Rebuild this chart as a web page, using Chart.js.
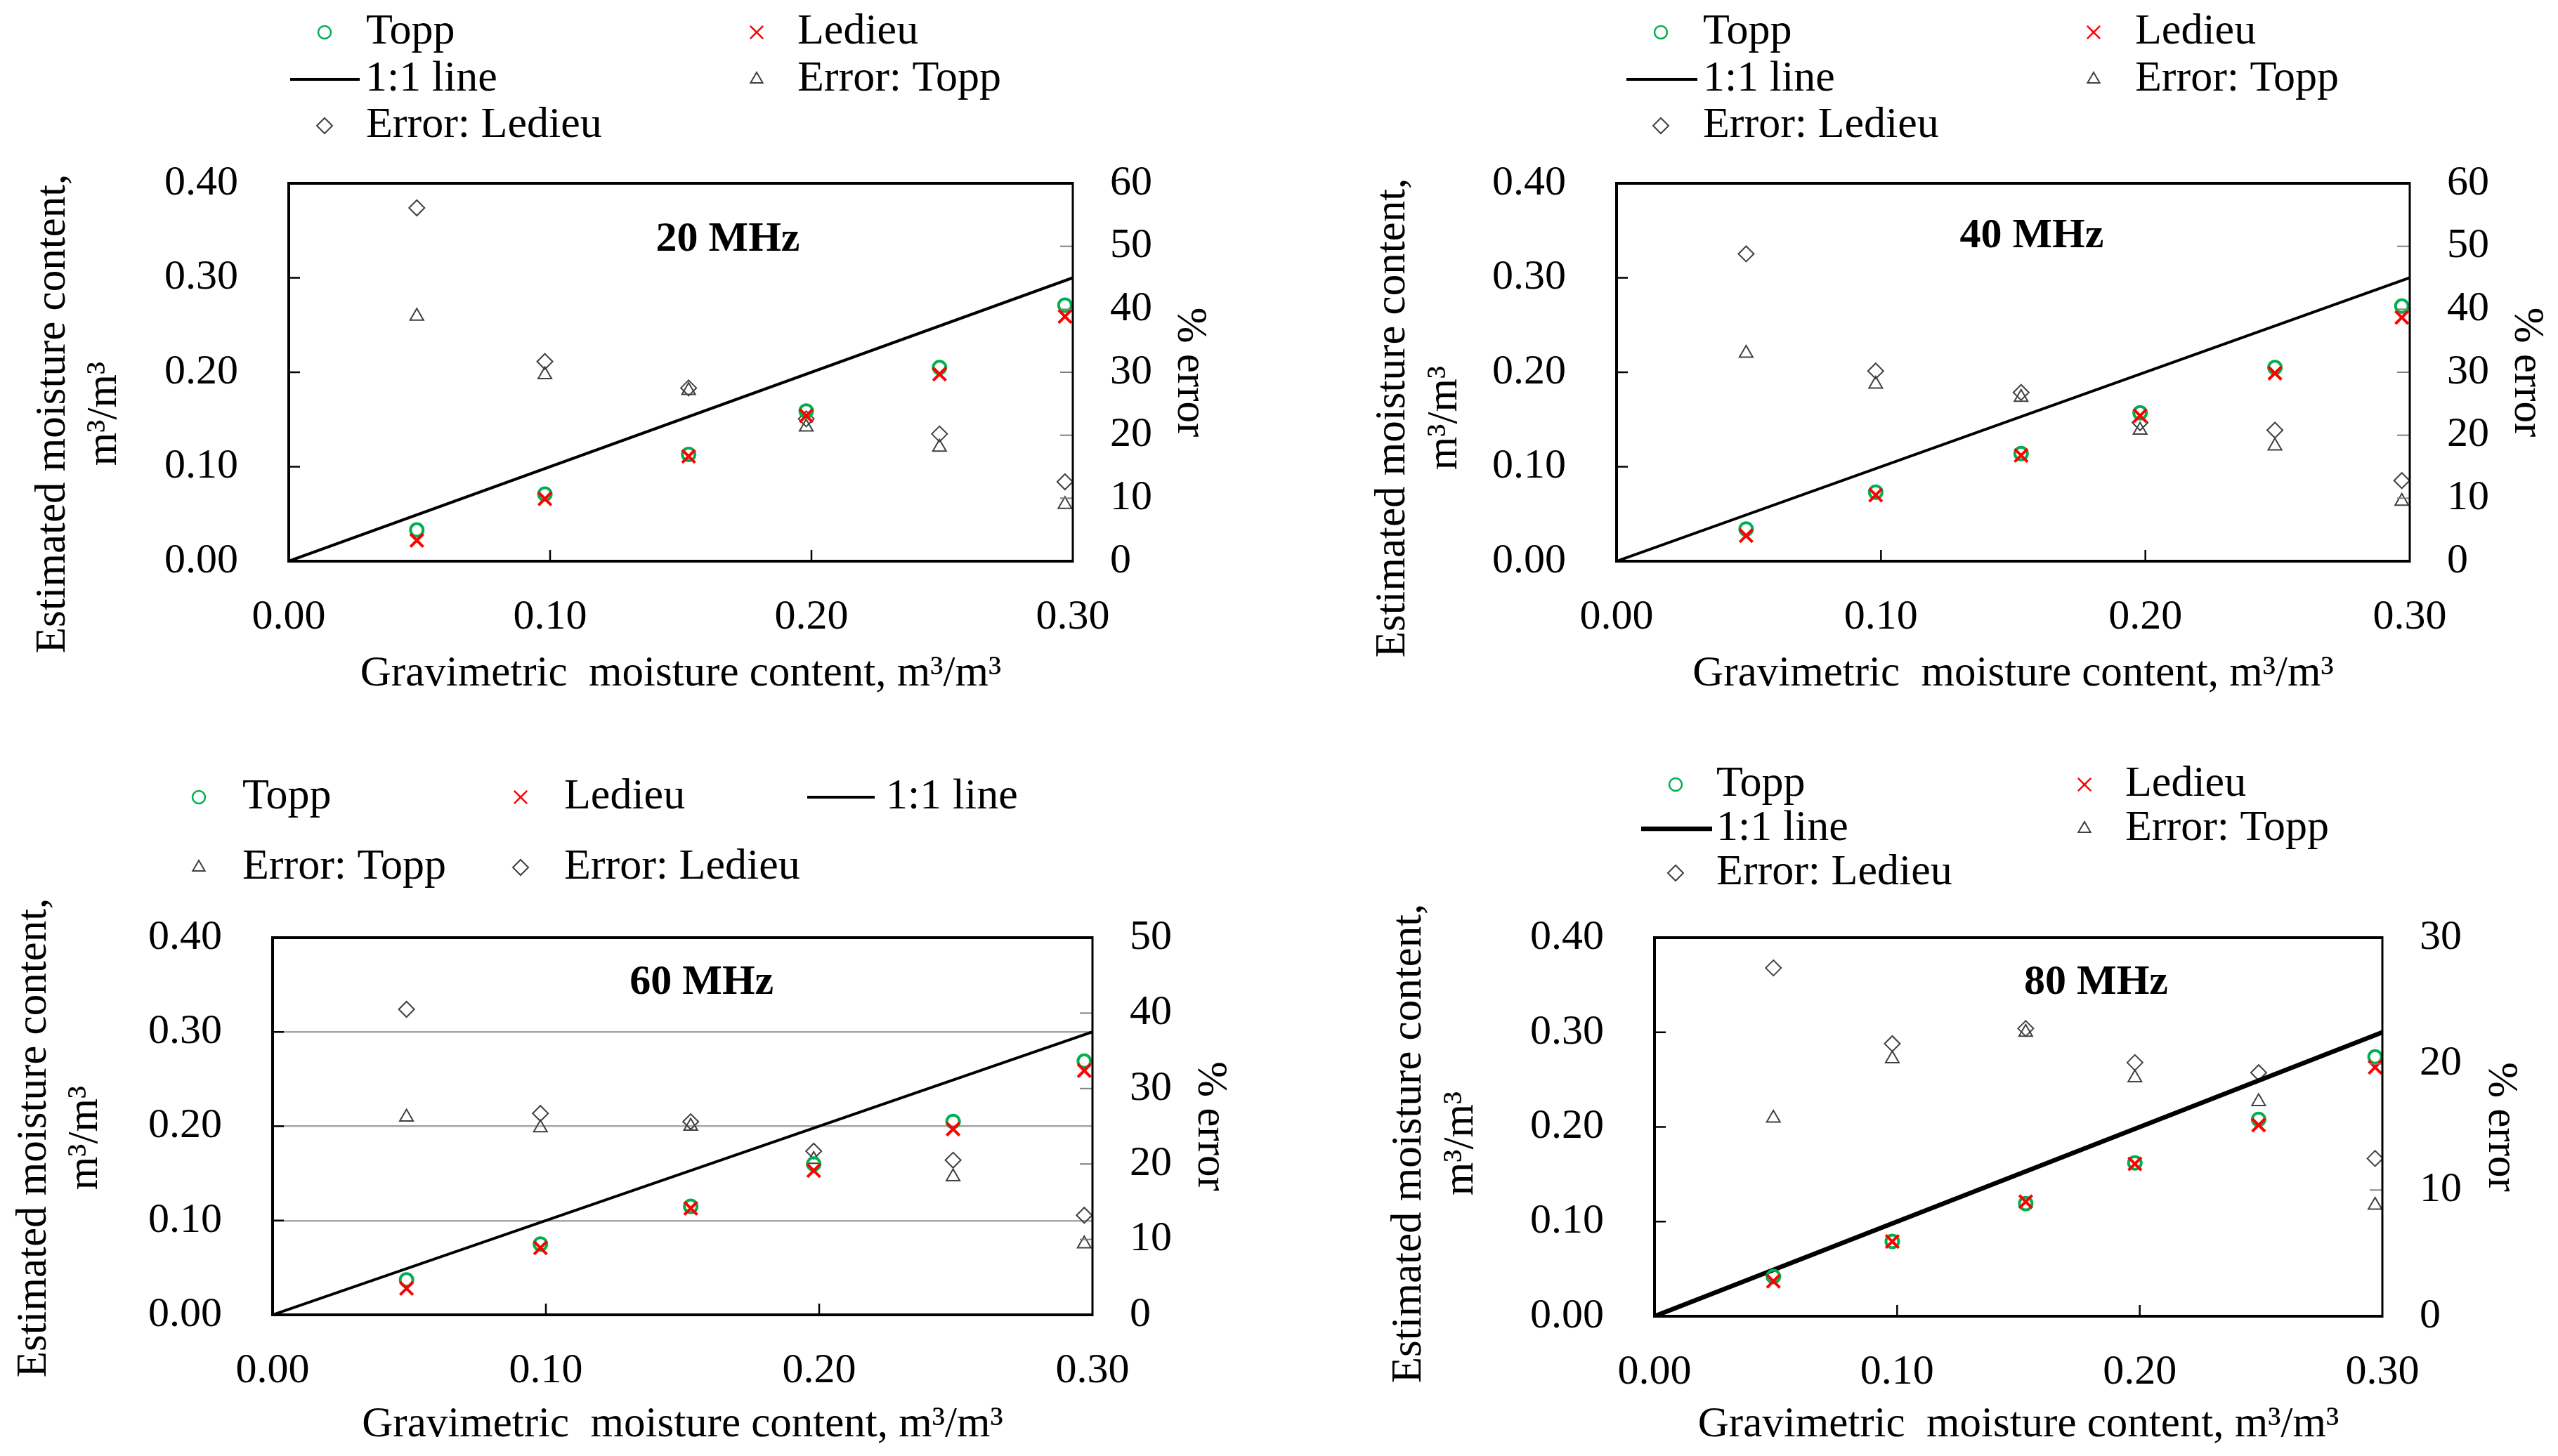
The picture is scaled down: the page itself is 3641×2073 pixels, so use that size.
<!DOCTYPE html>
<html>
<head>
<meta charset="utf-8">
<script src="https://cdn.jsdelivr.net/npm/chart.js@4.4.1/dist/chart.umd.min.js"></script>
<style>
  html, body { margin: 0; padding: 0; background: #fff; }
  .panel { position: absolute; }
</style>
</head>
<body>
<div class="panel" style="left:0;top:0;width:1820px;height:1030px"><canvas id="c20"></canvas></div>
<div class="panel" style="left:1820px;top:0;width:1821px;height:1030px"><canvas id="c40"></canvas></div>
<div class="panel" style="left:0;top:1030px;width:1820px;height:1043px"><canvas id="c60"></canvas></div>
<div class="panel" style="left:1820px;top:1030px;width:1821px;height:1043px"><canvas id="c80"></canvas></div>
<script>
// gravimetric moisture content (x) shared by all panels
const gravimetric = [0.049, 0.098, 0.153, 0.198, 0.249, 0.297];
const oneToOneLine = [0, 0.30];

const topp20 = [0.033, 0.071, 0.113, 0.159, 0.205, 0.271];
const ledieu20 = [0.022, 0.066, 0.111, 0.154, 0.198, 0.259];
const errTopp20 = [38.9, 29.6, 27.1, 21.3, 18.1, 9.0];
const errLedieu20 = [56.1, 31.7, 27.5, 22.6, 20.2, 12.6];

const topp40 = [0.034, 0.073, 0.114, 0.157, 0.205, 0.270];
const ledieu40 = [0.027, 0.070, 0.112, 0.154, 0.199, 0.258];
const errTopp40 = [33.0, 28.1, 26.0, 20.8, 18.3, 9.5];
const errLedieu40 = [48.8, 30.2, 26.8, 22.0, 20.8, 12.8];

const topp60 = [0.037, 0.075, 0.115, 0.160, 0.205, 0.269];
const ledieu60 = [0.028, 0.071, 0.113, 0.153, 0.197, 0.259];
const errTopp60 = [26.2, 24.8, 25.0, 20.6, 18.3, 9.4];
const errLedieu60 = [40.5, 26.7, 25.6, 21.7, 20.5, 13.2];

const topp80 = [0.042, 0.079, 0.119, 0.162, 0.208, 0.274];
const ledieu80 = [0.037, 0.079, 0.121, 0.161, 0.202, 0.263];
const errTopp80 = [15.7, 20.4, 22.5, 18.9, 17.0, 8.8];
const errLedieu80 = [27.6, 21.6, 22.8, 20.1, 19.3, 12.5];

const seriesLabels = ['Topp', 'Ledieu', '1:1 line', 'Error: Topp', 'Error: Ledieu'];
const panelLabels = ['20 MHz', '40 MHz', '60 MHz', '80 MHz'];
const moistureMax = 0.40;
const gravMax = 0.30;
const errorMax = [60, 60, 50, 30];

const FONT = "'Liberation Serif', 'Times New Roman', serif";
const GREEN = '#00B050';
const RED = '#FF0000';
const GREY = '#404040';

Chart.defaults.font.family = FONT;
Chart.defaults.color = '#000';

// layout of each panel, in canvas pixels
const panels = [
  { id: 'c20', topp: topp20, ledieu: ledieu20, errT: errTopp20, errL: errLedieu20,
    area: { l: 411, r: 1527, t: 261, b: 799 }, w: 1820, h: 1030, lineW: 4, grid: false,
    xTitlePad: 33, rTitlePad: 90, leftTitle: { x: 76, gap: 73, y: 589 }, label: { x: 0.168, y: 0.340 },
    legend: [
      { i: 0, sx: 462, tx: 521, y: 46 }, { i: 1, sx: 1077, tx: 1135, y: 46 },
      { i: 2, lx: [413, 512], tx: 520, y: 113 }, { i: 3, sx: 1077, tx: 1135, y: 113 },
      { i: 4, sx: 462, tx: 521, y: 179 }
    ] },
  { id: 'c40', topp: topp40, ledieu: ledieu40, errT: errTopp40, errL: errLedieu40,
    area: { l: 481, r: 1610, t: 261, b: 799 }, w: 1821, h: 1030, lineW: 4, grid: false,
    xTitlePad: 33, rTitlePad: 8, leftTitle: { x: 163, gap: 74, y: 595 }, label: { x: 0.157, y: 0.344 },
    legend: [
      { i: 0, sx: 544, tx: 604, y: 46 }, { i: 1, sx: 1160, tx: 1219, y: 46 },
      { i: 2, lx: [495, 596], tx: 604, y: 113 }, { i: 3, sx: 1160, tx: 1219, y: 113 },
      { i: 4, sx: 544, tx: 604, y: 179 }
    ] },
  { id: 'c60', topp: topp60, ledieu: ledieu60, errT: errTopp60, errL: errLedieu60,
    area: { l: 388, r: 1555, t: 305, b: 842 }, w: 1820, h: 1043, lineW: 4, grid: true,
    xTitlePad: 7, rTitlePad: 61, leftTitle: { x: 49, gap: 73, y: 590 }, label: { x: 0.157, y: 0.352 },
    legend: [
      { i: 0, sx: 283, tx: 345, y: 105 }, { i: 1, sx: 741, tx: 803, y: 105 },
      { i: 2, lx: [1149, 1245], tx: 1261, y: 105 },
      { i: 3, sx: 283, tx: 345, y: 205 }, { i: 4, sx: 741, tx: 803, y: 205 }
    ] },
  { id: 'c80', topp: topp80, ledieu: ledieu80, errT: errTopp80, errL: errLedieu80,
    area: { l: 535, r: 1571, t: 305, b: 844 }, w: 1821, h: 1043, lineW: 6.5, grid: false,
    xTitlePad: 7, rTitlePad: 45, leftTitle: { x: 186, gap: 74, y: 598 }, label: { x: 0.182, y: 0.352 },
    legend: [
      { i: 0, sx: 565, tx: 623, y: 87 }, { i: 1, sx: 1147, tx: 1205, y: 87 },
      { i: 2, lx: [516, 617], tx: 623, y: 150 }, { i: 3, sx: 1147, tx: 1205, y: 150 },
      { i: 4, sx: 565, tx: 623, y: 213 }
    ] }
];

// frame, inward tick marks, panel label, left title and legend grid
const decor = {
  id: 'decor',
  afterDatasetsDraw(chart, args, o) {
    const ctx = chart.ctx;
    const a = chart.chartArea;
    const { x, y, y1 } = chart.scales;
    ctx.save();
    ctx.lineCap = 'butt';
    ctx.strokeStyle = '#000';
    ctx.lineWidth = 2.5;
    x.ticks.forEach(t => {
      if (t.value <= x.min || t.value >= x.max - 1e-9) return;
      const px = x.getPixelForValue(t.value);
      ctx.beginPath(); ctx.moveTo(px, a.bottom); ctx.lineTo(px, a.bottom - 16); ctx.stroke();
    });
    y.ticks.forEach(t => {
      if (t.value <= y.min || t.value >= y.max - 1e-9) return;
      const py = y.getPixelForValue(t.value);
      ctx.beginPath(); ctx.moveTo(a.left, py); ctx.lineTo(a.left + 16, py); ctx.stroke();
    });
    ctx.strokeStyle = '#808080';
    ctx.lineWidth = 2;
    y1.ticks.forEach(t => {
      if (t.value <= y1.min || t.value >= y1.max) return;
      const py = y1.getPixelForValue(t.value);
      ctx.beginPath(); ctx.moveTo(a.right, py); ctx.lineTo(a.right - 18, py); ctx.stroke();
    });
    ctx.strokeStyle = '#000';
    ctx.lineWidth = 4;
    ctx.beginPath();
    ctx.moveTo(a.right, a.top); ctx.lineTo(a.left, a.top);
    ctx.lineTo(a.left, a.bottom); ctx.lineTo(a.right, a.bottom);
    ctx.stroke();
    ctx.lineWidth = 3;
    ctx.beginPath(); ctx.moveTo(a.right, a.top - 2); ctx.lineTo(a.right, a.bottom + 2); ctx.stroke();
    ctx.restore();
  },
  afterDraw(chart, args, o) {
    const ctx = chart.ctx;
    const { x, y } = chart.scales;
    ctx.save();
    // panel label
    ctx.font = 'bold 60px ' + FONT;
    ctx.fillStyle = '#000';
    ctx.textAlign = 'center';
    ctx.textBaseline = 'middle';
    ctx.fillText(o.label, x.getPixelForValue(o.labelPos.x), y.getPixelForValue(o.labelPos.y));
    // left axis title, two rotated lines
    ctx.font = '61px ' + FONT;
    o.leftTitle.text.forEach((line, k) => {
      ctx.save();
      ctx.translate(o.leftTitle.x + k * o.leftTitle.gap, o.leftTitle.y);
      ctx.rotate(-Math.PI / 2);
      ctx.fillText(line, 0, 0);
      ctx.restore();
    });
    // legend
    ctx.font = '62px ' + FONT;
    ctx.textAlign = 'left';
    o.legend.forEach(it => {
      const ds = chart.data.datasets[it.i];
      if (it.lx) {
        ctx.strokeStyle = ds.borderColor;
        ctx.lineWidth = ds.borderWidth;
        ctx.beginPath(); ctx.moveTo(it.lx[0], it.y); ctx.lineTo(it.lx[1], it.y); ctx.stroke();
      } else {
        ctx.strokeStyle = ds.pointBorderColor;
        ctx.fillStyle = 'rgba(0,0,0,0)';
        ctx.lineWidth = ds.legendBorder;
        Chart.helpers.drawPoint(ctx, {
          pointStyle: ds.pointStyle, rotation: 0, radius: ds.legendRadius, borderWidth: ds.legendBorder
        }, it.sx, it.y);
      }
      ctx.fillStyle = '#000';
      ctx.fillText(ds.label, it.tx, it.y);
    });
    ctx.restore();
  }
};

const pts = (ys) => ys.map((v, i) => ({ x: gravimetric[i], y: v }));

panels.forEach((p, n) => {
  const datasets = [
    { label: seriesLabels[0], data: pts(p.topp), yAxisID: 'y', order: 1,
      pointStyle: 'circle', pointRadius: 9, pointHoverRadius: 9, pointBorderWidth: 4,
      pointBorderColor: GREEN, pointBackgroundColor: 'rgba(0,0,0,0)', borderColor: GREEN,
      showLine: false, legendRadius: 9, legendBorder: 2.5 },
    { label: seriesLabels[1], data: pts(p.ledieu), yAxisID: 'y', order: 0,
      pointStyle: 'crossRot', pointRadius: 13, pointHoverRadius: 13, pointBorderWidth: 4,
      pointBorderColor: RED, pointBackgroundColor: RED, borderColor: RED,
      showLine: false, legendRadius: 13, legendBorder: 2.5 },
    { label: seriesLabels[2], data: oneToOneLine.map(v => ({ x: v, y: v })), yAxisID: 'y', order: 2,
      showLine: true, pointRadius: 0, borderColor: '#000', borderWidth: p.lineW, fill: false },
    { label: seriesLabels[3], data: pts(p.errT), yAxisID: 'y1', order: 3,
      pointStyle: 'triangle', pointRadius: 11, pointHoverRadius: 11, pointBorderWidth: 2,
      pointBorderColor: GREY, pointBackgroundColor: 'rgba(0,0,0,0)', borderColor: GREY,
      showLine: false, legendRadius: 10, legendBorder: 2 },
    { label: seriesLabels[4], data: pts(p.errL), yAxisID: 'y1', order: 4,
      pointStyle: 'rectRot', pointRadius: 11, pointHoverRadius: 11, pointBorderWidth: 2,
      pointBorderColor: GREY, pointBackgroundColor: 'rgba(0,0,0,0)', borderColor: GREY,
      showLine: false, legendRadius: 11, legendBorder: 2 }
  ];

  new Chart(document.getElementById(p.id), {
    type: 'scatter',
    data: { datasets },
    plugins: [decor],
    options: {
      responsive: true,
      maintainAspectRatio: false,
      devicePixelRatio: 1,
      animation: false,
      layout: { padding: { top: p.area.t, left: 0, right: 0, bottom: 0 } },
      scales: {
        x: {
          type: 'linear', min: 0, max: gravMax,
          border: { display: false },
          grid: { display: false, drawTicks: false },
          ticks: { stepSize: 0.1, padding: 44, font: { size: 60 }, color: '#000', callback: v => v.toFixed(2) },
          title: { display: true, text: 'Gravimetric  moisture content, m³/m³', font: { size: 61, lineHeight: 1.2 },
                   color: '#000', padding: { top: 0, bottom: p.xTitlePad } },
          afterFit: s => { s.height = p.h - p.area.b; }
        },
        y: {
          type: 'linear', position: 'left', min: 0, max: moistureMax,
          border: { display: false },
          grid: { display: p.grid, drawTicks: false, color: '#a6a6a6', lineWidth: 2.5 },
          ticks: { stepSize: 0.1, padding: 72, font: { size: 60 }, color: '#000', callback: v => v.toFixed(2) },
          afterFit: s => { s.width = p.area.l; }
        },
        y1: {
          type: 'linear', position: 'right', min: 0, max: errorMax[n],
          border: { display: false },
          grid: { display: false, drawTicks: false },
          ticks: { stepSize: 10, padding: 53, font: { size: 60 }, color: '#000' },
          title: { display: true, text: '% error', font: { size: 61, lineHeight: 1.2 },
                   color: '#000', padding: { top: p.rTitlePad, bottom: 0 } },
          afterFit: s => { s.width = p.w - p.area.r; }
        }
      },
      plugins: {
        legend: { display: false },
        tooltip: { enabled: false },
        decor: {
          label: panelLabels[n],
          labelPos: p.label,
          leftTitle: { text: ['Estimated moisture content,', 'm³/m³'], x: p.leftTitle.x, gap: p.leftTitle.gap, y: p.leftTitle.y },
          legend: p.legend
        }
      }
    }
  });
});
</script>
</body>
</html>
